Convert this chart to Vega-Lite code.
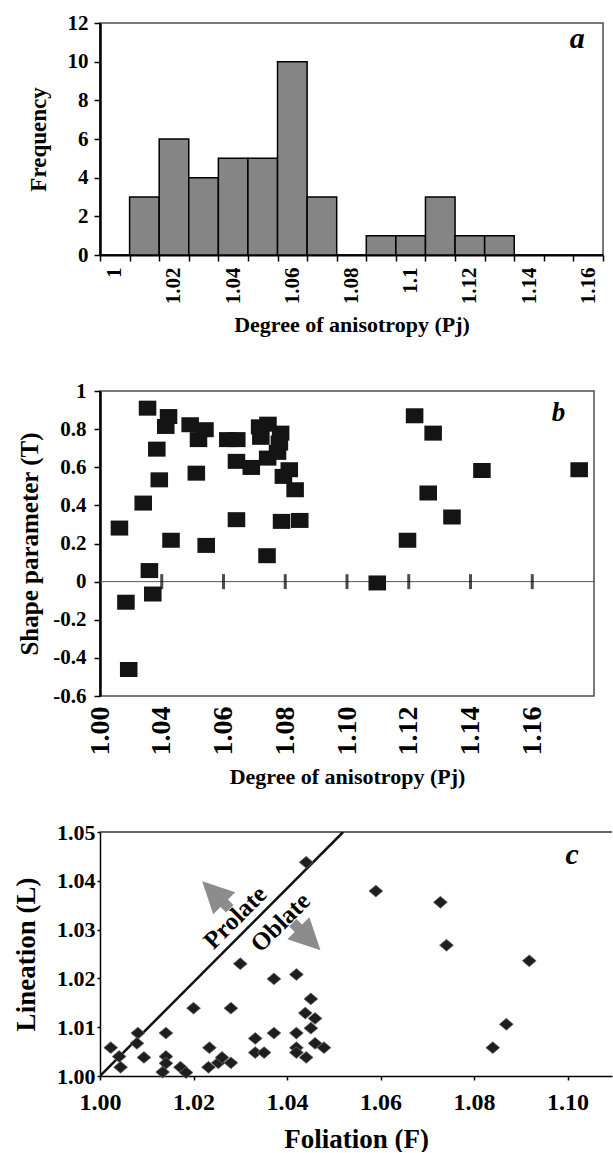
{
  "$schema": "https://vega.github.io/schema/vega-lite/v6.json",
  "background": "white",
  "padding": {"left": 12, "top": 11, "right": 0, "bottom": 0},
  "bounds": "flush",
  "spacing": 136,
  "config": {
    "font": "Liberation Serif",
    "view": {"stroke": "#4d4d4d", "strokeWidth": 1.5},
    "axis": {
      "labelFont": "Liberation Serif", "labelFontWeight": "bold", "labelColor": "#000",
      "titleFont": "Liberation Serif", "titleFontWeight": "bold", "titleColor": "#000",
      "grid": false, "domainColor": "#000", "tickColor": "#000",
      "labelFlush": false, "labelOverlap": false, "labelBound": false
    }
  },
  "vconcat": [
    {
      "width": 503, "height": 232,
      "layer": [
        {
          "data": {"values": [
            {"Pj": "1", "Frequency": 0}, {"Pj": "1.01", "Frequency": 3}, {"Pj": "1.02", "Frequency": 6},
            {"Pj": "1.03", "Frequency": 4}, {"Pj": "1.04", "Frequency": 5}, {"Pj": "1.05", "Frequency": 5},
            {"Pj": "1.06", "Frequency": 10}, {"Pj": "1.07", "Frequency": 3}, {"Pj": "1.08", "Frequency": 0},
            {"Pj": "1.09", "Frequency": 1}, {"Pj": "1.1", "Frequency": 1}, {"Pj": "1.11", "Frequency": 3},
            {"Pj": "1.12", "Frequency": 1}, {"Pj": "1.13", "Frequency": 1}, {"Pj": "1.14", "Frequency": 0},
            {"Pj": "1.15", "Frequency": 0}, {"Pj": "1.16", "Frequency": 0}
          ]},
          "mark": {"type": "bar", "fill": "#858585", "stroke": "#000", "strokeWidth": 1.5},
          "encoding": {
            "x": {
              "field": "Pj", "type": "ordinal", "sort": null,
              "scale": {"paddingInner": 0, "paddingOuter": 0},
              "axis": {
                "title": "Degree of anisotropy (Pj)", "titleFontSize": 22, "titlePadding": 10,
                "labelAngle": -90, "labelFontSize": 21, "labelPadding": 6, "labelOverlap": false,
                "tickBand": "extent", "tickSize": 6, "tickWidth": 1.5, "domainWidth": 2,
                "minExtent": 49, "maxExtent": 49,
                "labelExpr": "indexof(['1','1.02','1.04','1.06','1.08','1.1','1.12','1.14','1.16'], datum.label) >= 0 ? datum.label : ''"
              }
            },
            "y": {
              "field": "Frequency", "type": "quantitative",
              "scale": {"domain": [0, 12], "nice": false},
              "axis": {
                "title": "Frequency", "titleFontSize": 23, "titlePadding": 15,
                "values": [0, 2, 4, 6, 8, 10, 12], "tickCount": 30, "format": "d", "labelFontSize": 21, "labelPadding": 6, "labelOverlap": false,
                "tickSize": 6, "tickWidth": 1.5, "domainWidth": 2.5,
                "minExtent": 35, "maxExtent": 35
              }
            }
          }
        },
        {
          "data": {"values": [{}]},
          "mark": {"type": "text", "text": "a", "font": "Liberation Serif", "fontStyle": "italic", "fontWeight": "bold", "fontSize": 30, "align": "center", "baseline": "alphabetic", "dx": -11},
          "encoding": {
            "x": {"datum": "1.16", "type": "ordinal"},
            "y": {"datum": 10.7, "type": "quantitative"}
          }
        }
      ]
    },
    {
      "width": 494, "height": 305,
      "layer": [
        {
          "data": {"values": [{}]},
          "mark": {"type": "rule", "color": "#555", "strokeWidth": 1},
          "encoding": {"y": {"datum": 0, "type": "quantitative"}}
        },
        {
          "data": {"values": [{"Pj": 1.04}, {"Pj": 1.06}, {"Pj": 1.08}, {"Pj": 1.10}, {"Pj": 1.12}, {"Pj": 1.14}, {"Pj": 1.16}]},
          "mark": {"type": "tick", "orient": "vertical", "color": "#000", "size": 15, "thickness": 3},
          "encoding": {
            "x": {"field": "Pj", "type": "quantitative", "title": "Degree of anisotropy (Pj)"},
            "y": {"datum": 0, "type": "quantitative"}
          }
        },
        {
          "data": {"values": [
            {"Pj": 1.0263, "T": 0.281}, {"Pj": 1.0284, "T": -0.108}, {"Pj": 1.0293, "T": -0.461},
            {"Pj": 1.0340, "T": 0.412}, {"Pj": 1.0354, "T": 0.910}, {"Pj": 1.0360, "T": 0.058},
            {"Pj": 1.0371, "T": -0.065}, {"Pj": 1.0384, "T": 0.695}, {"Pj": 1.0392, "T": 0.534},
            {"Pj": 1.0413, "T": 0.814}, {"Pj": 1.0422, "T": 0.866}, {"Pj": 1.0430, "T": 0.217},
            {"Pj": 1.0492, "T": 0.823}, {"Pj": 1.0512, "T": 0.569}, {"Pj": 1.0519, "T": 0.745},
            {"Pj": 1.0540, "T": 0.797}, {"Pj": 1.0544, "T": 0.190}, {"Pj": 1.0614, "T": 0.745},
            {"Pj": 1.0643, "T": 0.745}, {"Pj": 1.0642, "T": 0.631}, {"Pj": 1.0642, "T": 0.325},
            {"Pj": 1.0690, "T": 0.599}, {"Pj": 1.0721, "T": 0.757}, {"Pj": 1.0717, "T": 0.812},
            {"Pj": 1.0741, "T": 0.136}, {"Pj": 1.0744, "T": 0.826}, {"Pj": 1.0743, "T": 0.648},
            {"Pj": 1.0775, "T": 0.678}, {"Pj": 1.0785, "T": 0.779}, {"Pj": 1.0781, "T": 0.727},
            {"Pj": 1.0788, "T": 0.316}, {"Pj": 1.0794, "T": 0.552}, {"Pj": 1.0813, "T": 0.587},
            {"Pj": 1.0832, "T": 0.482}, {"Pj": 1.0847, "T": 0.321}, {"Pj": 1.1098, "T": -0.007},
            {"Pj": 1.1196, "T": 0.217}, {"Pj": 1.1219, "T": 0.870}, {"Pj": 1.1263, "T": 0.465},
            {"Pj": 1.1279, "T": 0.779}, {"Pj": 1.1340, "T": 0.339}, {"Pj": 1.1437, "T": 0.583},
            {"Pj": 1.1752, "T": 0.587}
          ]},
          "mark": {"type": "point", "shape": "M-1.17,-1H1.17V1H-1.17Z", "size": 225, "filled": true, "color": "#141414", "opacity": 1},
          "encoding": {
            "x": {
              "field": "Pj", "type": "quantitative",
              "scale": {"domain": [1.02, 1.18], "nice": false, "zero": false},
              "axis": {
                "title": "Degree of anisotropy (Pj)", "titleFontSize": 22, "titlePadding": 10,
                "values": [1.02, 1.04, 1.06, 1.08, 1.10, 1.12, 1.14, 1.16], "tickCount": 30,
                "labelExpr": "datum.value < 1.03 ? '1.00' : format(datum.value, '.2f')",
                "labelAngle": -90, "labelFontSize": 28, "labelPadding": 10, "labelOverlap": false,
                "ticks": false, "domain": false,
                "minExtent": 60, "maxExtent": 60
              }
            },
            "y": {
              "field": "T", "type": "quantitative",
              "scale": {"domain": [-0.6, 1], "nice": false},
              "axis": {
                "title": "Shape parameter (T)", "titleFontSize": 25, "titlePadding": 11,
                "values": [-0.6, -0.4, -0.2, 0, 0.2, 0.4, 0.6, 0.8, 1], "tickCount": 30,
                "labelExpr": "datum.value == 0 ? '0' : (datum.value == 1 ? '1' : (datum.value < 0 ? '-' + format(-datum.value, '.1f') : format(datum.value, '.1f')))",
                "labelFontSize": 21, "labelPadding": 8, "labelOverlap": false, "tickSize": 6, "tickWidth": 1.5, "domainWidth": 2.5,
                "minExtent": 47, "maxExtent": 47
              }
            }
          }
        },
        {
          "data": {"values": [{}]},
          "mark": {"type": "text", "text": "b", "font": "Liberation Serif", "fontStyle": "italic", "fontWeight": "bold", "fontSize": 27, "align": "center", "baseline": "alphabetic"},
          "encoding": {
            "x": {"datum": 1.1685, "type": "quantitative"},
            "y": {"datum": 0.843, "type": "quantitative"}
          }
        }
      ]
    },
    {
      "width": 512, "height": 244,
      "view": {"stroke": null},
      "layer": [
        {
          "data": {"values": [{}]},
          "mark": {"type": "rule", "color": "#333", "strokeWidth": 1.5},
          "encoding": {"y": {"datum": 1.05, "type": "quantitative"}}
        },
        {
          "data": {"values": [{"F": 1.0, "L": 1.0}, {"F": 1.052, "L": 1.05}]},
          "mark": {"type": "line", "color": "#111", "strokeWidth": 2.5, "clip": true},
          "encoding": {
            "x": {"field": "F", "type": "quantitative", "title": "Foliation (F)"},
            "y": {"field": "L", "type": "quantitative", "title": "Lineation (L)"}
          }
        },
        {
          "data": {"values": [{}]},
          "mark": {"type": "point", "shape": "M0,-1L0.8,0.6L0.27,0.6L0.27,1L-0.27,1L-0.27,0.6L-0.8,0.6Z", "size": 1521, "filled": true, "color": "#8c8c8c", "opacity": 1, "angle": -45},
          "encoding": {
            "x": {"datum": 1.0248, "type": "quantitative"},
            "y": {"datum": 1.0371, "type": "quantitative"}
          }
        },
        {
          "data": {"values": [{}]},
          "mark": {"type": "point", "shape": "M0,-1L0.8,0.6L0.27,0.6L0.27,1L-0.27,1L-0.27,0.6L-0.8,0.6Z", "size": 1521, "filled": true, "color": "#8c8c8c", "opacity": 1, "angle": 135},
          "encoding": {
            "x": {"datum": 1.0442, "type": "quantitative"},
            "y": {"datum": 1.0286, "type": "quantitative"}
          }
        },
        {
          "data": {"values": [{}]},
          "mark": {"type": "text", "text": "Prolate", "font": "Liberation Serif", "fontWeight": "bold", "fontSize": 25, "align": "center", "baseline": "middle", "angle": -45},
          "encoding": {
            "x": {"datum": 1.0289, "type": "quantitative"},
            "y": {"datum": 1.0325, "type": "quantitative"}
          }
        },
        {
          "data": {"values": [{}]},
          "mark": {"type": "text", "text": "Oblate", "font": "Liberation Serif", "fontWeight": "bold", "fontSize": 25, "align": "center", "baseline": "middle", "angle": -45},
          "encoding": {
            "x": {"datum": 1.0386, "type": "quantitative"},
            "y": {"datum": 1.0315, "type": "quantitative"}
          }
        },
        {
          "data": {"values": [
            {"F": 1.0023, "L": 1.0058}, {"F": 1.0041, "L": 1.0040}, {"F": 1.0044, "L": 1.0018},
            {"F": 1.0081, "L": 1.0088}, {"F": 1.0079, "L": 1.0067}, {"F": 1.0094, "L": 1.0038},
            {"F": 1.0141, "L": 1.0088}, {"F": 1.0141, "L": 1.0040}, {"F": 1.0141, "L": 1.0026},
            {"F": 1.0134, "L": 1.0008}, {"F": 1.0172, "L": 1.0018}, {"F": 1.0184, "L": 1.0007},
            {"F": 1.0200, "L": 1.0139}, {"F": 1.0234, "L": 1.0058}, {"F": 1.0232, "L": 1.0018},
            {"F": 1.0253, "L": 1.0027}, {"F": 1.0261, "L": 1.0038}, {"F": 1.0280, "L": 1.0027},
            {"F": 1.0280, "L": 1.0139}, {"F": 1.0300, "L": 1.0230}, {"F": 1.0332, "L": 1.0077},
            {"F": 1.0332, "L": 1.0048}, {"F": 1.0351, "L": 1.0048}, {"F": 1.0372, "L": 1.0088},
            {"F": 1.0372, "L": 1.0199}, {"F": 1.0420, "L": 1.0208}, {"F": 1.0420, "L": 1.0088},
            {"F": 1.0420, "L": 1.0058}, {"F": 1.0420, "L": 1.0048}, {"F": 1.0441, "L": 1.0038},
            {"F": 1.0439, "L": 1.0129}, {"F": 1.0451, "L": 1.0158}, {"F": 1.0460, "L": 1.0118},
            {"F": 1.0451, "L": 1.0098}, {"F": 1.0460, "L": 1.0067}, {"F": 1.0479, "L": 1.0058},
            {"F": 1.0441, "L": 1.0438}, {"F": 1.0590, "L": 1.0379}, {"F": 1.0728, "L": 1.0356},
            {"F": 1.0741, "L": 1.0268}, {"F": 1.0918, "L": 1.0236}, {"F": 1.0869, "L": 1.0106},
            {"F": 1.0840, "L": 1.0058}
          ]},
          "mark": {"type": "point", "shape": "M-1.17,0L0,-1L1.17,0L0,1Z", "size": 140, "filled": true, "color": "#1e1e1e", "opacity": 1, "stroke": "#6a6a6a", "strokeWidth": 0.8},
          "encoding": {
            "x": {
              "field": "F", "type": "quantitative",
              "scale": {"domain": [1.0, 1.1095], "nice": false, "zero": false},
              "axis": {
                "title": "Foliation (F)", "titleFontSize": 27, "titlePadding": 12,
                "values": [1.0, 1.02, 1.04, 1.06, 1.08, 1.10], "tickCount": 30, "format": ".2f",
                "labelFontSize": 24, "labelPadding": 10, "labelOverlap": false, "tickSize": 4, "tickWidth": 1.5, "domainWidth": 1.5,
                "minExtent": 38, "maxExtent": 38
              }
            },
            "y": {
              "field": "L", "type": "quantitative",
              "scale": {"domain": [1.0, 1.05], "nice": false, "zero": false},
              "axis": {
                "title": "Lineation (L)", "titleFontSize": 27, "titlePadding": 16,
                "values": [1.0, 1.01, 1.02, 1.03, 1.04, 1.05], "tickCount": 30, "format": ".2f",
                "labelFontSize": 22, "labelPadding": 2, "labelOverlap": false, "tickSize": 3, "tickWidth": 1.5, "domainWidth": 1.5,
                "minExtent": 44, "maxExtent": 44
              }
            }
          }
        },
        {
          "data": {"values": [{}]},
          "mark": {"type": "text", "text": "c", "font": "Liberation Serif", "fontStyle": "italic", "fontWeight": "bold", "fontSize": 30, "align": "center", "baseline": "alphabetic"},
          "encoding": {
            "x": {"datum": 1.101, "type": "quantitative"},
            "y": {"datum": 1.0434, "type": "quantitative"}
          }
        }
      ]
    }
  ]
}
